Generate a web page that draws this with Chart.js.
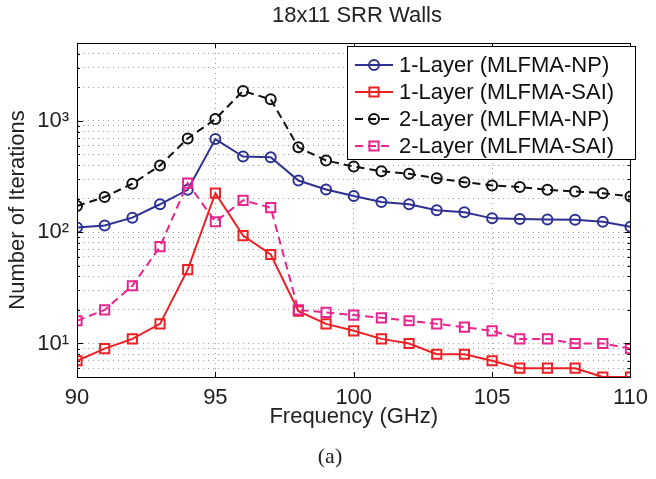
<!DOCTYPE html>
<html>
<head>
<meta charset="utf-8">
<script src="https://cdn.jsdelivr.net/npm/chart.js@4.4.0/dist/chart.umd.min.js"></script>
<style>
  body { margin: 0; background: #fff; }
  #wrap { position: relative; width: 656px; height: 479px; }
</style>
</head>
<body>
<div id="wrap"><canvas id="chart" width="656" height="479"></canvas></div>
<script>
// Data
const frequencies = [90, 91, 92, 93, 94, 95, 96, 97, 98, 99, 100, 101, 102, 103, 104, 105, 106, 107, 108, 109, 110];
const oneLayerNP  = [110, 115, 135, 178, 240, 685, 477, 471, 291, 242, 211, 187, 178, 157, 151, 133, 131, 130, 129, 124, 112];
const oneLayerSAI = [7, 9, 11, 15, 46, 224, 93, 63, 19.5, 15, 13, 11, 10, 8, 8, 7, 6, 6, 6, 5, 5];
const twoLayerNP  = [172, 207, 272, 397, 695, 1036, 1855, 1560, 578, 440, 388, 353, 334, 305, 281, 263, 254, 240, 232, 224, 209];
const twoLayerSAI = [16, 20, 33, 74, 276, 124, 193, 166, 20, 19, 18, 17, 16, 15, 14, 13, 11, 11, 10, 10, 9];

const seriesLabels = ['1-Layer (MLFMA-NP)', '1-Layer (MLFMA-SAI)', '2-Layer (MLFMA-NP)', '2-Layer (MLFMA-SAI)'];
const chartTitle = '18x11 SRR Walls';
const xTitle = 'Frequency (GHz)';
const yTitle = 'Number of Iterations';
const caption = '(a)';

// log axis ticks: 1..9 in each decade, labels only on decades
const yDecades = [1, 10, 100, 1000];
const yMinorSteps = [1, 2, 3, 4, 5, 6, 7, 8, 9];
const yTickLabels = { 10: '10¹', 100: '10²', 1000: '10³' };
const xTickValues = [90, 95, 100, 105, 110];

const FONT = "'Liberation Sans', Arial, Helvetica, sans-serif";

function points(values) {
    return frequencies.map((f, i) => ({ x: f, y: values[i] }));
}

const yTickValues = [];
yDecades.forEach(d => yMinorSteps.forEach(m => {
    const v = d * m;
    if (v >= 5 && v <= 5000) yTickValues.push(v);
}));

// Frame, inward tick marks, title and caption
const framePlugin = {
    id: 'frame',
    afterDatasetsDraw(chart) {
        const { ctx, chartArea: a, scales } = chart;
        ctx.save();
        ctx.strokeStyle = '#000';
        ctx.lineWidth = 1;
        ctx.beginPath();
        xTickValues.forEach(v => {
            const px = Math.round(scales.x.getPixelForValue(v)) + 0.5;
            ctx.moveTo(px, a.bottom); ctx.lineTo(px, a.bottom - 5);
            ctx.moveTo(px, a.top); ctx.lineTo(px, a.top + 5);
        });
        yTickValues.forEach(v => {
            const py = Math.round(scales.y.getPixelForValue(v)) + 0.5;
            const len = yTickLabels[v] ? 6 : 3;
            ctx.moveTo(a.left, py); ctx.lineTo(a.left + len, py);
            ctx.moveTo(a.right, py); ctx.lineTo(a.right - len, py);
        });
        ctx.stroke();
        ctx.strokeRect(Math.round(a.left) + 0.5, Math.round(a.top) + 0.5,
            Math.round(a.right - a.left), Math.round(a.bottom - a.top));
        ctx.restore();
    },
    afterDraw(chart) {
        const ctx = chart.ctx;
        ctx.save();
        ctx.fillStyle = '#222';
        ctx.textAlign = 'center';
        ctx.textBaseline = 'middle';
        ctx.font = '22px ' + FONT;
        ctx.fillText(chartTitle, 357, 16);
        ctx.font = "22px 'Liberation Serif', 'Times New Roman', serif";
        ctx.fillText(caption, 330, 457);
        ctx.restore();
    }
};

// MATLAB-style legend box
const legendPlugin = {
    id: 'boxLegend',
    afterDraw(chart) {
        const ctx = chart.ctx;
        const x0 = 347, y0 = 46, w = 288, h = 113;
        ctx.save();
        ctx.fillStyle = '#fff';
        ctx.fillRect(x0, y0, w, h);
        ctx.strokeStyle = '#000';
        ctx.lineWidth = 1;
        ctx.strokeRect(x0 + 0.5, y0 + 0.5, w, h);
        chart.data.datasets.forEach((ds, i) => {
            const y = 65 + i * 27;
            ctx.strokeStyle = ds.borderColor;
            ctx.lineWidth = ds.borderWidth;
            ctx.setLineDash(ds.borderDash || []);
            ctx.beginPath();
            ctx.moveTo(355, y); ctx.lineTo(393, y);
            ctx.stroke();
            ctx.setLineDash([]);
            ctx.lineWidth = ds.pointBorderWidth;
            ctx.beginPath();
            if (ds.pointStyle === 'circle') {
                ctx.arc(374, y, ds.pointRadius, 0, Math.PI * 2);
            } else {
                const s = ds.pointRadius * Math.SQRT1_2;
                ctx.rect(374 - s, y - s, 2 * s, 2 * s);
            }
            ctx.stroke();
            ctx.fillStyle = '#111';
            ctx.font = '22px ' + FONT;
            ctx.textAlign = 'left';
            ctx.textBaseline = 'middle';
            ctx.fillText(ds.label, 399, y + 1);
        });
        ctx.restore();
    }
};

const dotted = { color: '#a0a0a0', lineWidth: 1 };

new Chart(document.getElementById('chart').getContext('2d'), {
    type: 'line',
    data: {
        datasets: [
            {
                label: seriesLabels[0], data: points(oneLayerNP),
                borderColor: '#2e3192', borderWidth: 2, pointStyle: 'circle',
                pointRadius: 5, pointBorderWidth: 2, pointBackgroundColor: 'rgba(0,0,0,0)', order: 4
            },
            {
                label: seriesLabels[1], data: points(oneLayerSAI),
                borderColor: '#ed2024', borderWidth: 2, pointStyle: 'rect',
                pointRadius: 6.5, pointBorderWidth: 2, pointBackgroundColor: 'rgba(0,0,0,0)', order: 3
            },
            {
                label: seriesLabels[2], data: points(twoLayerNP),
                borderColor: '#111111', borderWidth: 2, borderDash: [8, 5], pointStyle: 'circle',
                pointRadius: 5, pointBorderWidth: 2, pointBackgroundColor: 'rgba(0,0,0,0)', order: 2
            },
            {
                label: seriesLabels[3], data: points(twoLayerSAI),
                borderColor: '#e8258e', borderWidth: 2, borderDash: [8, 5], pointStyle: 'rect',
                pointRadius: 6.5, pointBorderWidth: 2, pointBackgroundColor: 'rgba(0,0,0,0)', order: 1
            }
        ]
    },
    options: {
        responsive: false,
        animation: false,
        layout: { padding: { top: 43, right: 19, bottom: 0, left: 0 } },
        plugins: {
            legend: { display: false },
            tooltip: { enabled: false }
        },
        scales: {
            x: {
                type: 'linear',
                min: 90,
                max: 110,
                afterBuildTicks: scale => { scale.ticks = xTickValues.map(v => ({ value: v })); },
                afterFit: scale => { scale.height = 102; },
                ticks: {
                    color: '#222', padding: 8, maxRotation: 0,
                    font: { family: FONT, size: 22 }
                },
                grid: { ...dotted, drawTicks: false },
                border: { display: true, color: '#000', width: 1, dash: [1, 4] },
                title: {
                    display: true, text: xTitle, color: '#222',
                    font: { family: FONT, size: 22 },
                    padding: { top: 0, bottom: 49 }
                }
            },
            y: {
                type: 'logarithmic',
                min: 5,
                max: 5000,
                afterBuildTicks: scale => { scale.ticks = yTickValues.map(v => ({ value: v })); },
                afterFit: scale => { scale.width = 77; },
                ticks: {
                    color: '#222', padding: 8, autoSkip: false,
                    font: { family: FONT, size: 22 },
                    callback: v => yTickLabels[v] || ''
                },
                grid: { ...dotted, drawTicks: false },
                border: { display: true, color: '#000', width: 1, dash: [1, 4] },
                title: {
                    display: true, text: yTitle, color: '#222',
                    font: { family: FONT, size: 22 },
                    padding: { top: 5, bottom: 0 }
                }
            }
        }
    },
    plugins: [framePlugin, legendPlugin]
});
</script>
</body>
</html>
